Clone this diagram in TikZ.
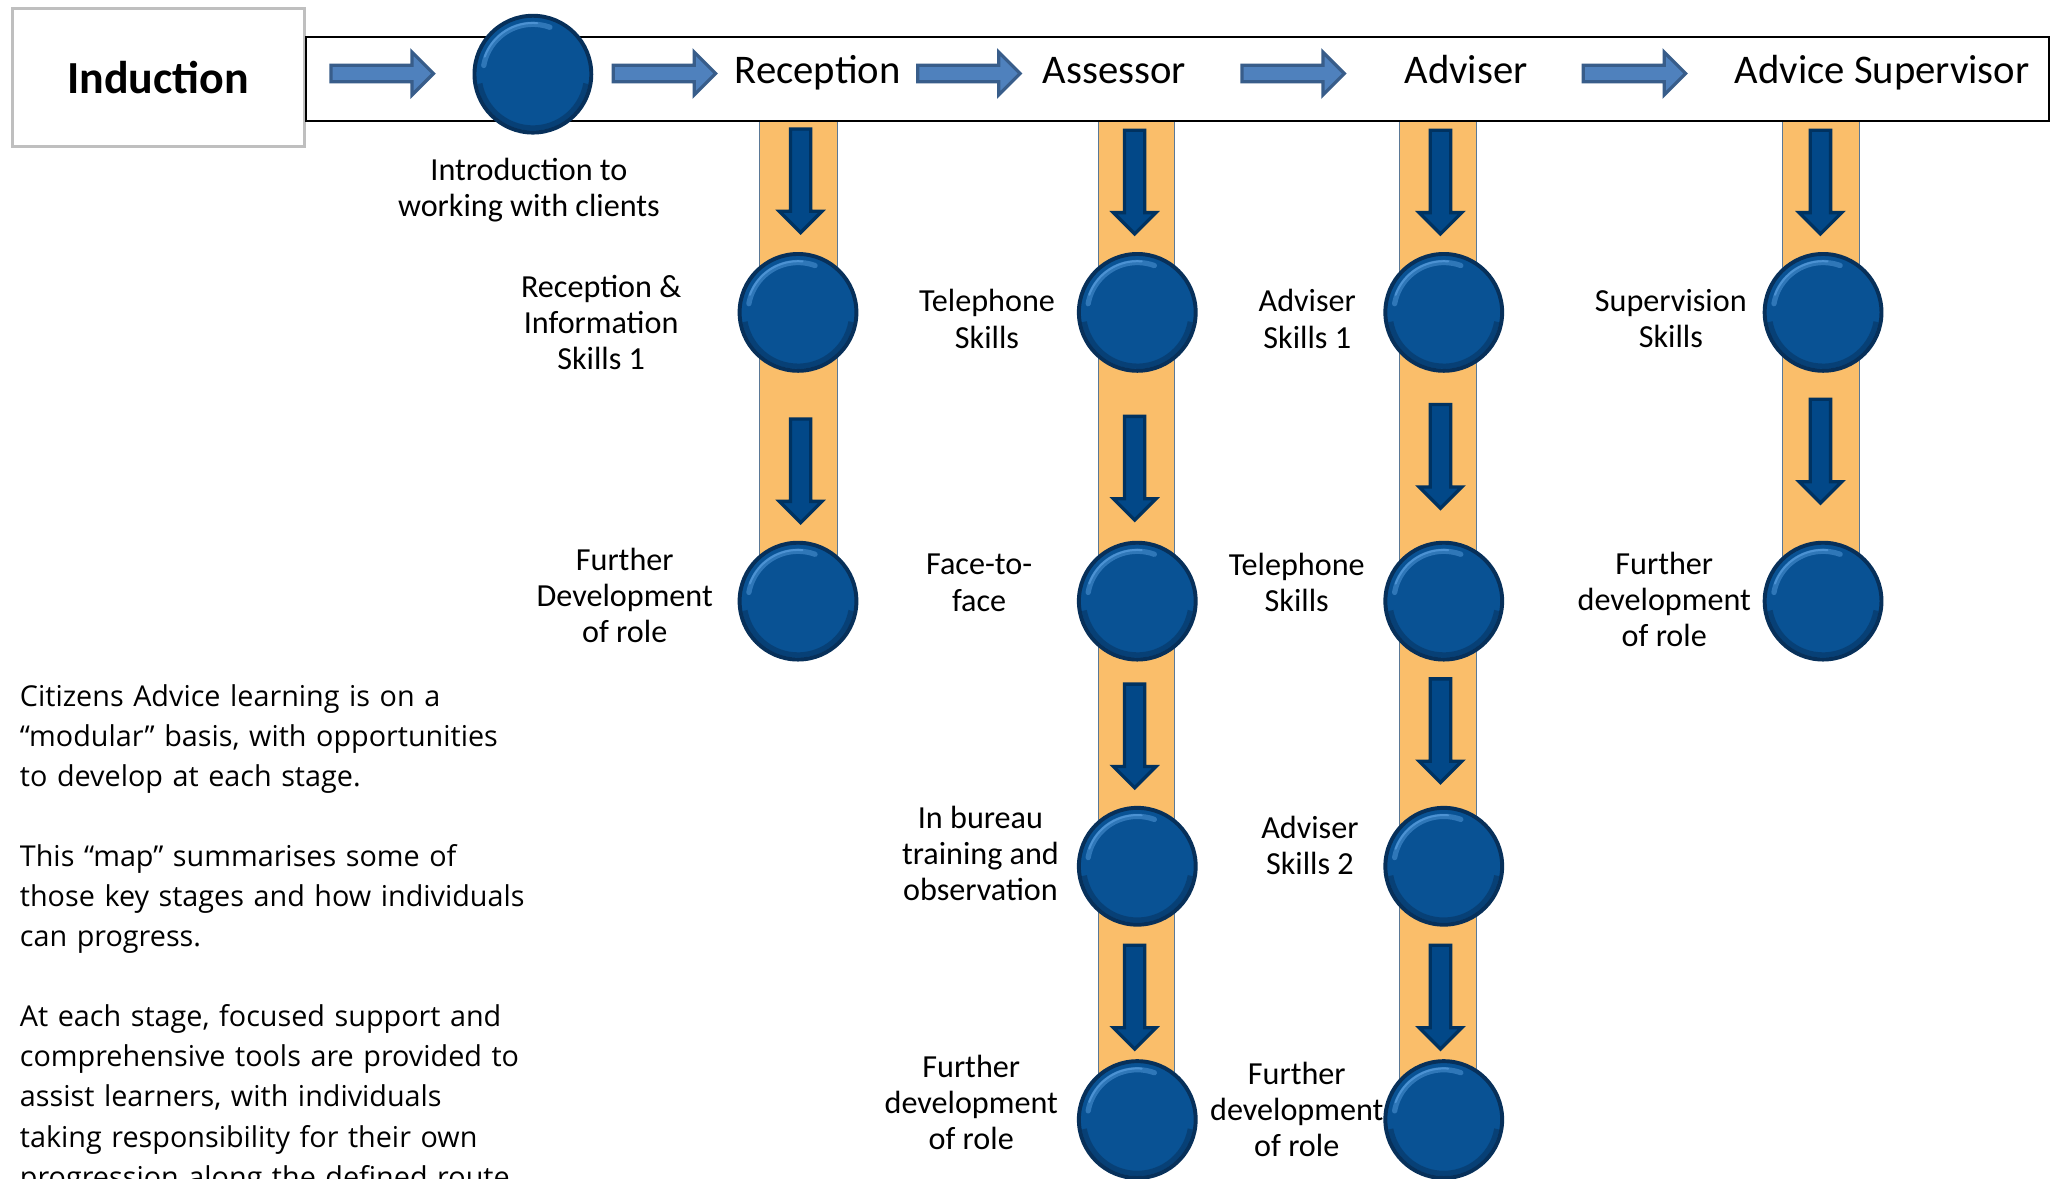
\documentclass[tikz,border=0pt]{standalone}
\usepackage{fontspec}
\setmainfont{Carlito}
\newfontfamily\bodyfont{Open Sans}
\usetikzlibrary{shapes.arrows,calc}
\definecolor{corange}{RGB}{250,190,106}
\definecolor{coledge}{RGB}{90,120,150}
\definecolor{ballfill}{RGB}{9,82,148}
\definecolor{ballrim}{RGB}{7,48,90}
\definecolor{ballhi}{RGB}{80,150,215}
\definecolor{harfill}{RGB}{79,129,189}
\definecolor{hardraw}{RGB}{56,93,138}
\definecolor{darfill}{RGB}{2,72,136}
\definecolor{dardraw}{RGB}{0,50,96}
\definecolor{indgray}{RGB}{191,191,191}
\begin{document}
\begin{tikzpicture}[x=1pt,y=-1pt,
  ball/.style={circle, inner sep=0pt, minimum size=89pt, fill=ballfill, draw=ballrim, line width=3pt,
    path picture={
      \draw[ballhi, line width=4pt, line cap=round, opacity=0.55]
        ($(path picture bounding box.center)+(170:38pt)$) arc[start angle=170, end angle=70, radius=38pt];
      \draw[ballhi, line width=1.5pt, line cap=round, opacity=0.9]
        ($(path picture bounding box.center)+(160:39pt)$) arc[start angle=160, end angle=85, radius=39pt];
      \draw[ballrim, line width=4pt, opacity=0.5]
        ($(path picture bounding box.center)+(-10:41pt)$) arc[start angle=-10, end angle=-170, radius=41pt];}},
  colbar/.style={fill=corange, draw=coledge, line width=0.8pt},
  harrow/.style={single arrow, draw=hardraw, fill=harfill, line width=2.5pt, inner xsep=0pt, inner ysep=5pt,
    single arrow head extend=10pt, single arrow head indent=0pt, minimum height=78pt, minimum width=0pt, anchor=tip},
  darrow/.style={single arrow, shape border rotate=270, draw=dardraw, fill=darfill, line width=2.5pt, inner xsep=6.5pt,
    inner ysep=0pt, single arrow head extend=8.5pt, single arrow head indent=0pt, minimum height=79pt, minimum width=0pt, anchor=tip},
  lab/.style={align=center, inner sep=0pt, font=\fontsize{24.5}{27.5}\selectfont},
  toplab/.style={anchor=base, inner sep=0pt, font=\fontsize{31}{34}\selectfont}
]
\useasboundingbox (0,0) rectangle (1568,898);
\clip (0,0) rectangle (1568,898);
\fill[white] (0,0) rectangle (1568,898);

% induction box
\node[name=ind, draw=indgray, line width=2.5pt, minimum width=222.5pt, minimum height=105.5pt, inner sep=0pt,
  font=\bfseries\fontsize{35}{38}\selectfont] at (120.5,59) {Induction};

% columns
\draw[colbar] (579,92) rectangle (638,458);
\draw[colbar] (837,92) rectangle (895,853);
\draw[colbar] (1066,92) rectangle (1125,853);
\draw[colbar] (1358,92) rectangle (1417,458);

% band
\node[name=band, draw=black, line width=1.2pt, fill=white, minimum width=1328pt, minimum height=64pt, inner sep=0pt] at (897,60) {};

% top labels
\node[toplab, name=treception] at (623,63.5) {Reception};
\node[toplab, name=tassessor] at (849,63.5) {Assessor};
\node[toplab, name=tadviser] at (1117,63.5) {Adviser};
\node[toplab, name=tsupervisor] at (1434,63.5) {Advice Supervisor};

% horizontal arrows
\node[harrow, name=h1] at (332,56) {};
\node[harrow, name=h2] at (547,56) {};
\node[harrow, name=h3] at (779,56) {};
\node[harrow, name=h4] at (1026,56) {};
\node[harrow, name=h5] at (1286,56) {};

% circles
\node[ball, name=c0] at (406,56.5) {};
\node[ball, name=r1] at (608,238) {};
\node[ball, name=r2] at (608,458) {};
\node[ball, name=a1] at (866.5,238) {};
\node[ball, name=a2] at (866.5,458) {};
\node[ball, name=a3] at (866.5,660) {};
\node[ball, name=a4] at (866.5,853) {};
\node[ball, name=d1] at (1100,238) {};
\node[ball, name=d2] at (1100,458) {};
\node[ball, name=d3] at (1100,660) {};
\node[ball, name=d4] at (1100,853) {};
\node[ball, name=s1] at (1389,238) {};
\node[ball, name=s2] at (1389,458) {};

% down arrows
\node[darrow, name=vr1] at (610,179) {};
\node[darrow, name=vr2] at (610,400) {};
\node[darrow, name=va1] at (864.5,180) {};
\node[darrow, name=va2] at (864.5,398) {};
\node[darrow, name=va3] at (864.5,602) {};
\node[darrow, name=va4] at (864.5,801) {};
\node[darrow, name=vd1] at (1097.5,180) {};
\node[darrow, name=vd2] at (1097.5,389) {};
\node[darrow, name=vd3] at (1097.5,598) {};
\node[darrow, name=vd4] at (1097.5,801) {};
\node[darrow, name=vs1] at (1387,180) {};
\node[darrow, name=vs2] at (1387,385) {};

% labels
\node[lab, name=lintro] at (403,145) {Introduction to\\working with clients};
\node[lab, name=lr1] at (458,246) {Reception \&\\Information\\Skills 1};
\node[lab, name=lr2] at (476,453.5) {Further\\Development\\of role};
\node[lab, name=la1] at (752,243) {Telephone\\Skills};
\node[lab, name=la2] at (746,444) {Face-to-\\face};
\node[lab, name=la3] at (747,650) {In bureau\\training and\\observation};
\node[lab, name=la4] at (740,840) {Further\\development\\of role};
\node[lab, name=ld1] at (996,243) {Adviser\\Skills 1};
\node[lab, name=ld2] at (988,444) {Telephone\\Skills};
\node[lab, name=ld3] at (998,644) {Adviser\\Skills 2};
\node[lab, name=ld4] at (988,845) {Further\\development\\of role};
\node[lab, name=ls1] at (1273,243) {Supervision\\Skills};
\node[lab, name=ls2] at (1268,457) {Further\\development\\of role};

% body text
\node[name=body, anchor=base west, text width=440pt, align=left, inner sep=0pt,
  font=\bodyfont\fontsize{21.9}{30.5}\selectfont] at (15,538.4)
{Citizens Advice learning is on a\\
“modular” basis, with opportunities\\
to develop at each stage.\\[30.5pt]
This “map” summarises some of\\
those key stages and how individuals\\
can progress.\\[30.5pt]
At each stage, focused support and\\
comprehensive tools are provided to\\
assist learners, with individuals\\
taking responsibility for their own\\
progression along the defined route.};
\end{tikzpicture}
\end{document}
